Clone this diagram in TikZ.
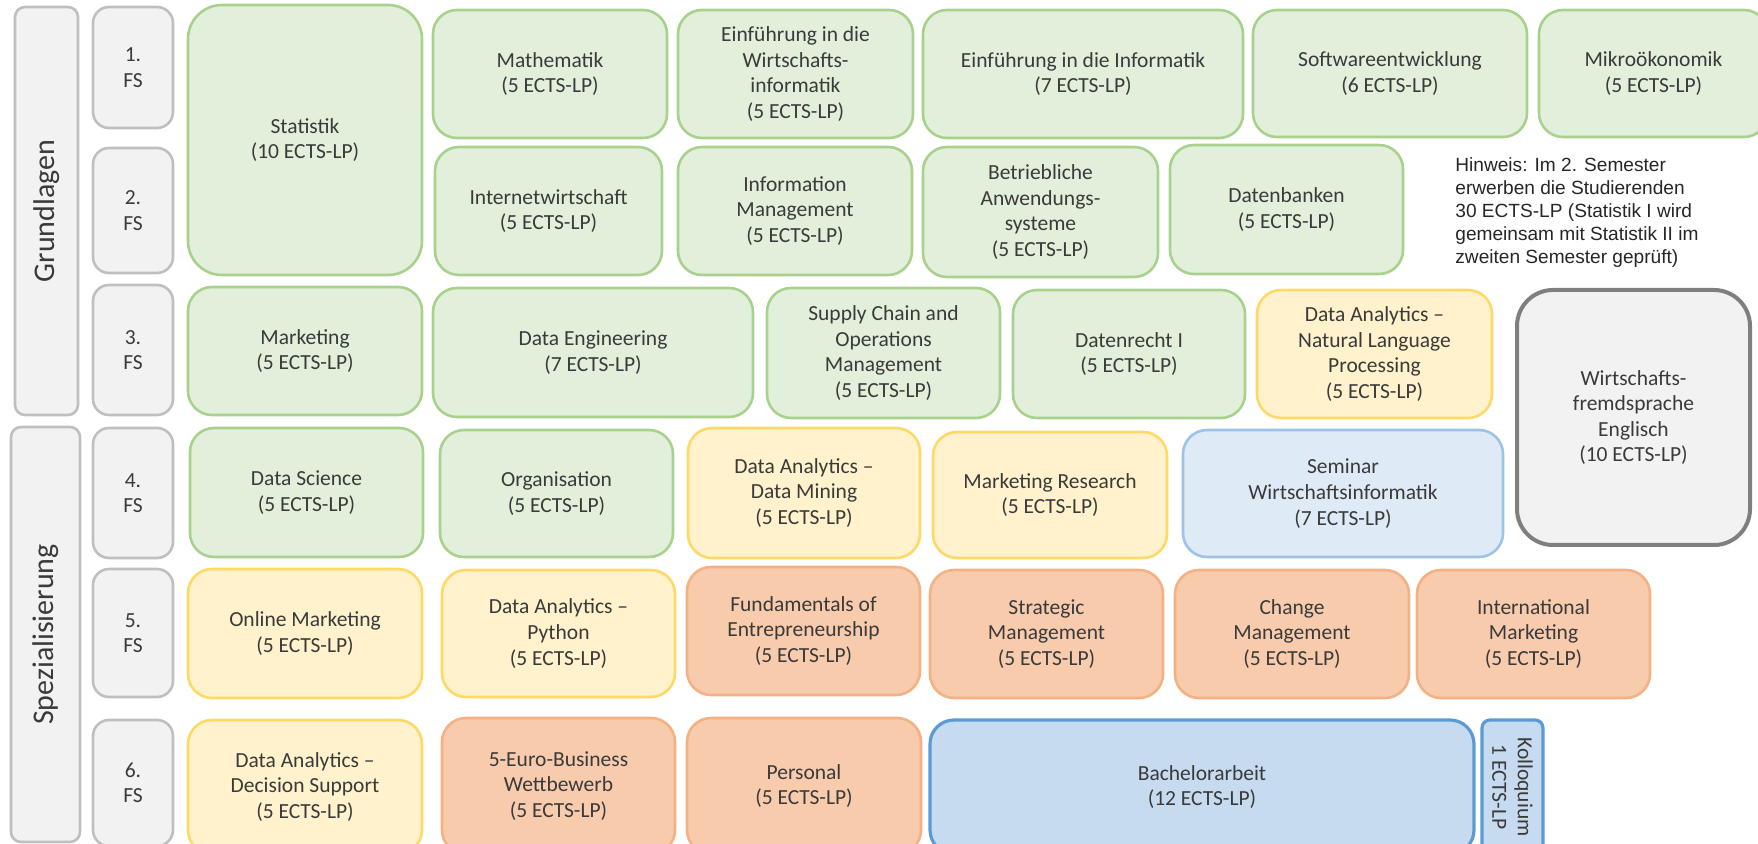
\documentclass[tikz,border=0pt]{standalone}
\usepackage{fontspec}
\setmainfont{Carlito}
\newfontfamily\hinweisfont{Liberation Sans}
\usepackage{tikz}
\definecolor{gruenfill}{HTML}{E2EFDA}
\definecolor{gruenrand}{HTML}{A9D18E}
\definecolor{gelbfill}{HTML}{FFF2CC}
\definecolor{gelbrand}{HTML}{FFD966}
\definecolor{orangefill}{HTML}{F8CBAD}
\definecolor{orangerand}{HTML}{F4B183}
\definecolor{hellblaufill}{HTML}{DEEBF7}
\definecolor{hellblaurand}{HTML}{9DC3E6}
\definecolor{blaufill}{HTML}{C6DBEF}
\definecolor{blaurand}{HTML}{5B9BD5}
\definecolor{graufill}{HTML}{F2F2F2}
\definecolor{graurand}{HTML}{BFBFBF}
\definecolor{dunkelrand}{HTML}{7F7F7F}
\definecolor{schrift}{HTML}{3A3A3A}
\tikzstyle{modul}=[rectangle, rounded corners=12pt, line width=1.3pt, align=center, inner sep=2pt, text=schrift, font=\fontsize{10.75}{12.8}\selectfont]
\tikzstyle{grund}=[modul, fill=gruenfill, draw=gruenrand]
\tikzstyle{vertief}=[modul, fill=gelbfill, draw=gelbrand]
\tikzstyle{wahl}=[modul, fill=orangefill, draw=orangerand]
\tikzstyle{seminar}=[modul, fill=hellblaufill, draw=hellblaurand]
\tikzstyle{abschluss}=[modul, fill=blaufill, draw=blaurand, line width=1.6pt]
\tikzstyle{sprache}=[modul, fill=graufill, draw=dunkelrand, line width=2pt, rounded corners=18pt]
\tikzstyle{semester}=[modul, fill=graufill, draw=graurand, rounded corners=8pt, minimum width=40pt]
\tikzstyle{bereich}=[modul, fill=graufill, draw=graurand, rounded corners=5pt, rotate=90, font=\fontsize{15}{18}\selectfont]

\begin{document}
\begin{tikzpicture}[x=1pt,y=-1pt]
  \useasboundingbox (0,0) rectangle (879,422);
  % Bereiche und Fachsemester
  \node (grundlagen) [bereich, minimum width=204pt, minimum height=31.5pt] at (23.25,105.5) {Grundlagen};
  \node (spezial) [bereich, minimum width=207.5pt, minimum height=34.5pt] at (22.75,317.25) {Spezialisierung};
  \node (fs1) [semester, minimum height=60.5pt] at (66.5,33.75) {1.\\FS};
  \node (fs2) [semester, minimum height=62.5pt] at (66.5,105.25) {2.\\FS};
  \node (fs3) [semester, minimum height=65pt] at (66.5,175) {3.\\FS};
  \node (fs4) [semester, minimum height=65pt] at (66.5,246.5) {4.\\FS};
  \node (fs5) [semester, minimum height=64pt] at (66.5,316.5) {5.\\FS};
  \node (fs6) [semester, minimum height=63pt] at (66.5,391.5) {6.\\FS};
  % 1. und 2. FS
  \node (statistik) [grund, rounded corners=17pt, minimum width=117pt, minimum height=135pt] at (152.5,70) {Statistik\\(10 ECTS-LP)};
  \node (mathe) [grund, minimum width=117pt, minimum height=64pt] at (275,37) {Mathematik\\(5 ECTS-LP)};
  \node (einfwi) [grund, minimum width=117.5pt, minimum height=64pt] at (397.75,37) {Einführung in die\\Wirtschafts-\\informatik\\(5 ECTS-LP)};
  \node (einfinf) [grund, minimum width=160pt, minimum height=64pt] at (541.5,37) {Einführung in die Informatik\\(7 ECTS-LP)};
  \node (software) [grund, minimum width=137pt, minimum height=63.5pt] at (695,36.75) {Softwareentwicklung\\(6 ECTS-LP)};
  \node (mikro) [grund, minimum width=114.5pt, minimum height=63.5pt] at (826.75,36.75) {Mikroökonomik\\(5 ECTS-LP)};
  \node (internet) [grund, minimum width=113.5pt, minimum height=64pt] at (274.25,105.5) {Internetwirtschaft\\(5 ECTS-LP)};
  \node (infomgmt) [grund, minimum width=117pt, minimum height=64pt] at (397.5,105.5) {Information\\Management\\(5 ECTS-LP)};
  \node (betriebl) [grund, minimum width=117.5pt, minimum height=65pt] at (520.25,106) {Betriebliche\\Anwendungs-\\systeme\\(5 ECTS-LP)};
  \node (datenbanken) [grund, minimum width=116.5pt, minimum height=64.5pt] at (643.25,104.75) {Datenbanken\\(5 ECTS-LP)};
  \node (hinweis) [anchor=north west, inner sep=0pt, align=left, text=black!85, font=\hinweisfont\fontsize{9.55}{11.5}\selectfont] at (727.5,78.5)
    {Hinweis: Im 2. Semester\\erwerben die Studierenden\\30 ECTS-LP (Statistik I wird\\gemeinsam mit Statistik II im\\zweiten Semester geprüft)};
  % 3. FS
  \node (marketing) [grund, minimum width=117pt, minimum height=64pt] at (152.5,175.5) {Marketing\\(5 ECTS-LP)};
  \node (dataeng) [grund, minimum width=160pt, minimum height=64.5pt] at (296.5,176.25) {Data Engineering\\(7 ECTS-LP)};
  \node (supply) [grund, minimum width=116.5pt, minimum height=65pt] at (441.75,176.5) {Supply Chain and\\Operations\\Management\\(5 ECTS-LP)};
  \node (datenrecht) [grund, minimum width=116pt, minimum height=64pt] at (564.5,177) {Datenrecht I\\(5 ECTS-LP)};
  \node (nlp) [vertief, minimum width=117.5pt, minimum height=64pt] at (687.25,177) {Data Analytics --\\Natural Language\\Processing\\(5 ECTS-LP)};
  \node (sprache) [sprache, minimum width=116.5pt, minimum height=127.5pt] at (816.75,208.75) {Wirtschafts-\\fremdsprache\\Englisch\\(10 ECTS-LP)};
  % 4. FS
  \node (datascience) [grund, minimum width=116.5pt, minimum height=64.5pt] at (153.25,246.25) {Data Science\\(5 ECTS-LP)};
  \node (organisation) [grund, minimum width=116.5pt, minimum height=63.5pt] at (278.25,246.75) {Organisation\\(5 ECTS-LP)};
  \node (datamining) [vertief, minimum width=116pt, minimum height=65pt] at (402,246.5) {Data Analytics --\\Data Mining\\(5 ECTS-LP)};
  \node (mktresearch) [vertief, minimum width=117pt, minimum height=63pt] at (525,247.5) {Marketing Research\\(5 ECTS-LP)};
  \node (seminarwi) [seminar, minimum width=160pt, minimum height=63.5pt] at (671.5,246.75) {Seminar\\Wirtschaftsinformatik\\(7 ECTS-LP)};
  % 5. FS
  \node (onlinemkt) [vertief, minimum width=117pt, minimum height=64.5pt] at (152.5,316.75) {Online Marketing\\(5 ECTS-LP)};
  \node (python) [vertief, minimum width=116.5pt, minimum height=63.5pt] at (279.25,316.75) {Data Analytics --\\Python\\(5 ECTS-LP)};
  \node (entrepreneur) [wahl, minimum width=116.5pt, minimum height=64pt] at (401.75,315.5) {Fundamentals of\\Entrepreneurship\\(5 ECTS-LP)};
  \node (strategic) [wahl, minimum width=116.5pt, minimum height=64pt] at (523.25,317) {Strategic\\Management\\(5 ECTS-LP)};
  \node (change) [wahl, minimum width=117pt, minimum height=64pt] at (646,317) {Change\\Management\\(5 ECTS-LP)};
  \node (intmkt) [wahl, minimum width=116.5pt, minimum height=64pt] at (766.75,317) {International\\Marketing\\(5 ECTS-LP)};
  % 6. FS (unten angeschnitten)
  \node (decision) [vertief, minimum width=117pt, minimum height=67pt] at (152.5,393.5) {Data Analytics --\\Decision Support\\(5 ECTS-LP)};
  \node (fiveeuro) [wahl, minimum width=116.5pt, minimum height=68pt] at (279.25,393) {5-Euro-Business\\Wettbewerb\\(5 ECTS-LP)};
  \node (personal) [wahl, minimum width=117pt, minimum height=68pt] at (402,393) {Personal\\(5 ECTS-LP)};
  \node (bachelor) [abschluss, minimum width=272pt, minimum height=67pt] at (601,393.5) {Bachelorarbeit\\(12 ECTS-LP)};
  \node (kolloquium) [abschluss, rotate=-90, rounded corners=4pt, inner sep=0pt, minimum width=67pt, minimum height=30.5pt] at (756.25,393.5) {Kolloquium\\1 ECTS-LP};
\end{tikzpicture}
\end{document}
